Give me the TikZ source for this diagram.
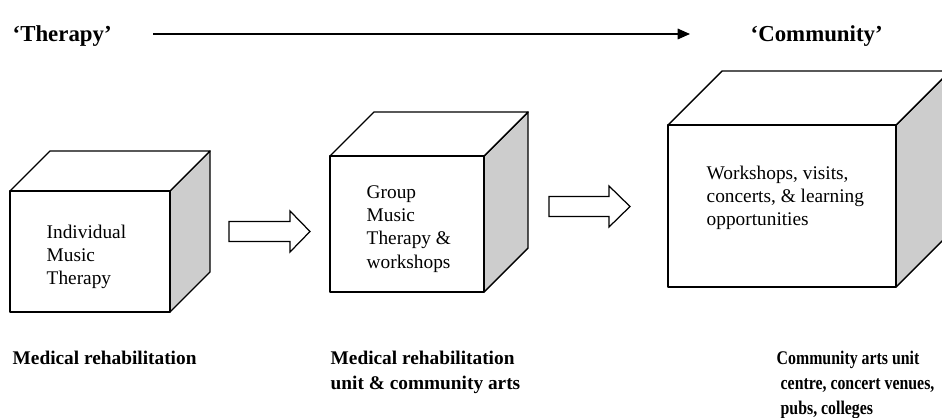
\documentclass[tikz,border=0pt]{standalone}
\usepackage{fontspec}
\setmainfont{Liberation Serif}
\newfontfamily\narrowserif{Liberation Serif}[FakeStretch=0.82]
\usetikzlibrary{arrows.meta}
\definecolor{sidegray}{RGB}{205,205,205}

\begin{document}
\begin{tikzpicture}[x=0.02cm, y=-0.02cm, line width=0.8pt,
    face/.style={draw=black, fill=white, line join=round},
    side/.style={draw=black, fill=sidegray, line join=round},
    boxtext/.style={anchor=north west, inner sep=0pt, align=left, font=\fontsize{11}{13.2}\selectfont},
    place/.style={anchor=north west, inner sep=0pt, align=left, font=\fontsize{11}{14.2}\selectfont\bfseries},
    heading/.style={anchor=north west, inner sep=0pt, font=\fontsize{13}{15}\selectfont\bfseries},
    blockarrow/.style={draw=black, fill=white, line width=0.7pt, line join=miter}]

    \clip (0,0) rectangle (942,418);

    % top line: 'Therapy' --> 'Community'
    \node[heading] (therapy) at (12,25) {‘Therapy’};
    \node[heading] (community) at (750,25) {‘Community’};
    \coordinate (from) at (153,34);
    \coordinate (to) at (690,34);
    \draw[-{Triangle[length=7pt,width=6pt]}, line width=0.9pt] (from) -- (to);

    % cubes: front left/top/right/bottom, depth
    \foreach \l/\t/\r/\b/\d in {10/191/170/312/40, 330/156/484/292/44, 668/125/896/287/54}{
        \draw[side] (\r,\t) -- ++(\d,-\d) -- ++(0,\b-\t) -- (\r,\b) -- cycle;
        \draw[face] (\l,\t) -- ++(\d,-\d) -- (\r+\d,\t-\d) -- (\r,\t) -- cycle;
        \draw[face] (\l,\t) rectangle (\r,\b);
    }

    % block arrows between the cubes
    \foreach \l/\m/\bx/\tx in {229/231.5/290/310, 549/206.5/609/630}{
        \draw[blockarrow] (\l,\m-10) -- (\bx,\m-10) -- (\bx,\m-20.5) -- (\tx,\m)
            -- (\bx,\m+20.5) -- (\bx,\m+10) -- (\l,\m+10) -- cycle;
    }

    \node[boxtext] (t1) at (46,224) {Individual\\Music\\Therapy};
    \node[boxtext] (t2) at (366,185) {Group\\Music\\Therapy \&\\workshops};
    \node[boxtext] (t3) at (706,165) {Workshops, visits,\\concerts, \& learning\\opportunities};

    \node[place] (lab1) at (12,350) {Medical rehabilitation};
    \node[place] (lab2) at (330,350) {Medical rehabilitation\\unit \& community arts};
    \node[place, font=\fontsize{11}{14.2}\selectfont\narrowserif\bfseries] (lab3) at (776,350)
        {Community arts unit\\\ centre, concert venues,\\\ pubs, colleges};

\end{tikzpicture}
\end{document}
